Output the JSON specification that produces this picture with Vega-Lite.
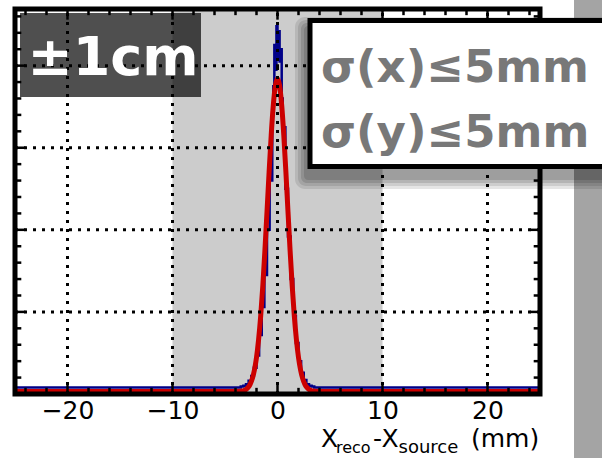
{
  "$schema": "https://vega.github.io/schema/vega-lite/v6.json",
  "width": 525,
  "height": 385,
  "autosize": {"type": "none"},
  "padding": {"left": 15, "top": 9, "right": 62, "bottom": 64},
  "background": "white",
  "config": {
    "view": {"stroke": null},
    "axisY": {"disable": true}
  },
  "datasets": {
    "hist": [
      {"lo": -25, "n": 0.08},
      {"lo": -3.5, "n": 0.09},
      {"lo": -3.25, "n": 0.10},
      {"lo": -3.0, "n": 0.12},
      {"lo": -2.75, "n": 0.16},
      {"lo": -2.5, "n": 0.22},
      {"lo": -2.25, "n": 0.32},
      {"lo": -2.0, "n": 0.47},
      {"lo": -1.75, "n": 0.72},
      {"lo": -1.5, "n": 1.06},
      {"lo": -1.25, "n": 1.45},
      {"lo": -1.0, "n": 2.00},
      {"lo": -0.75, "n": 2.60},
      {"lo": -0.5, "n": 3.40},
      {"lo": -0.4, "n": 3.75},
      {"lo": -0.3, "n": 4.25},
      {"lo": -0.2, "n": 3.95},
      {"lo": -0.1, "n": 4.48},
      {"lo": 0.0, "n": 4.10},
      {"lo": 0.1, "n": 4.42},
      {"lo": 0.2, "n": 4.05},
      {"lo": 0.3, "n": 4.20},
      {"lo": 0.4, "n": 3.60},
      {"lo": 0.5, "n": 3.25},
      {"lo": 0.75, "n": 2.50},
      {"lo": 1.0, "n": 1.92},
      {"lo": 1.25, "n": 1.40},
      {"lo": 1.5, "n": 0.95},
      {"lo": 1.75, "n": 0.62},
      {"lo": 2.0, "n": 0.40},
      {"lo": 2.25, "n": 0.26},
      {"lo": 2.5, "n": 0.17},
      {"lo": 2.75, "n": 0.12},
      {"lo": 3.0, "n": 0.10},
      {"lo": 3.25, "n": 0.09},
      {"lo": 3.5, "n": 0.08},
      {"lo": 25, "n": 0.08}
    ],
    "fit": [
      {"x": -25, "f": 0.03},
      {"x": -4.0, "f": 0.03},
      {"x": -3.6, "f": 0.033},
      {"x": -3.4, "f": 0.036},
      {"x": -3.2, "f": 0.043},
      {"x": -3.0, "f": 0.056},
      {"x": -2.8, "f": 0.080},
      {"x": -2.6, "f": 0.120},
      {"x": -2.4, "f": 0.187},
      {"x": -2.2, "f": 0.291},
      {"x": -2.0, "f": 0.445},
      {"x": -1.8, "f": 0.663},
      {"x": -1.6, "f": 0.952},
      {"x": -1.4, "f": 1.316},
      {"x": -1.2, "f": 1.746},
      {"x": -1.0, "f": 2.220},
      {"x": -0.8, "f": 2.702},
      {"x": -0.6, "f": 3.151},
      {"x": -0.4, "f": 3.517},
      {"x": -0.2, "f": 3.757},
      {"x": 0.0, "f": 3.840},
      {"x": 0.2, "f": 3.757},
      {"x": 0.4, "f": 3.517},
      {"x": 0.6, "f": 3.151},
      {"x": 0.8, "f": 2.702},
      {"x": 1.0, "f": 2.220},
      {"x": 1.2, "f": 1.746},
      {"x": 1.4, "f": 1.316},
      {"x": 1.6, "f": 0.952},
      {"x": 1.8, "f": 0.663},
      {"x": 2.0, "f": 0.445},
      {"x": 2.2, "f": 0.291},
      {"x": 2.4, "f": 0.187},
      {"x": 2.6, "f": 0.120},
      {"x": 2.8, "f": 0.080},
      {"x": 3.0, "f": 0.056},
      {"x": 3.2, "f": 0.043},
      {"x": 3.4, "f": 0.036},
      {"x": 3.6, "f": 0.033},
      {"x": 4.0, "f": 0.03},
      {"x": 25, "f": 0.03}
    ],
    "xmaj": [{"v": -20}, {"v": -10}, {"v": 0}, {"v": 10}, {"v": 20}],
    "xmin": [{"v": -24}, {"v": -22}, {"v": -18}, {"v": -16}, {"v": -14}, {"v": -12}, {"v": -8}, {"v": -6}, {"v": -4}, {"v": -2}, {"v": 2}, {"v": 4}, {"v": 6}, {"v": 8}, {"v": 12}, {"v": 14}, {"v": 16}, {"v": 18}, {"v": 22}, {"v": 24}],
    "ymaj": [{"v": 1}, {"v": 2}, {"v": 3}, {"v": 4}],
    "ymin": [{"v": 0.2}, {"v": 0.4}, {"v": 0.6}, {"v": 0.8}, {"v": 1.2}, {"v": 1.4}, {"v": 1.6}, {"v": 1.8}, {"v": 2.2}, {"v": 2.4}, {"v": 2.6}, {"v": 2.8}, {"v": 3.2}, {"v": 3.4}, {"v": 3.6}, {"v": 3.8}, {"v": 4.2}, {"v": 4.4}, {"v": 4.6}]
  },
  "layer": [
    {
      "data": {"values": [{}]},
      "mark": {"type": "rect", "fill": "#a4a4a4"},
      "encoding": {
        "x": {"datum": 28.24, "type": "quantitative",
          "scale": {"domain": [-25, 25], "nice": false, "zero": false},
          "axis": {"values": [-20, -10, 0, 10, 20], "title": null, "ticks": false, "domain": false, "grid": false,
            "labelFont": "DejaVu Sans", "labelFontSize": 25, "labelColor": "black", "labelPadding": 4, "labelFlush": false}},
        "x2": {"datum": 33},
        "y": {"datum": 4.85, "type": "quantitative", "scale": {"domain": [0, 4.69], "nice": false, "zero": false}},
        "y2": {"datum": -0.85}
      }
    },
    {
      "data": {"values": [{}]},
      "mark": {"type": "rect", "fill": "#cccccc"},
      "encoding": {
        "x": {"datum": -10, "type": "quantitative"},
        "x2": {"datum": 10},
        "y": {"datum": 0, "type": "quantitative"},
        "y2": {"datum": 4.69}
      }
    },
    {
      "data": {"name": "hist"},
      "mark": {"type": "line", "color": "#000088", "strokeWidth": 2.5, "interpolate": "step-after"},
      "encoding": {
        "x": {"field": "lo", "type": "quantitative"},
        "y": {"field": "n", "type": "quantitative"}
      }
    },
    {
      "data": {"name": "fit"},
      "mark": {"type": "line", "color": "#cc0000", "strokeWidth": 5, "interpolate": "monotone", "strokeJoin": "round"},
      "encoding": {
        "x": {"field": "x", "type": "quantitative"},
        "y": {"field": "f", "type": "quantitative"}
      }
    },
    {
      "data": {"name": "xmaj"},
      "mark": {"type": "rule", "color": "black", "strokeWidth": 3, "strokeDash": [3, 6]},
      "encoding": {
        "x": {"field": "v", "type": "quantitative"},
        "y": {"datum": 0, "type": "quantitative"},
        "y2": {"datum": 4.69}
      }
    },
    {
      "data": {"name": "ymaj"},
      "mark": {"type": "rule", "color": "black", "strokeWidth": 3, "strokeDash": [3, 6]},
      "encoding": {
        "y": {"field": "v", "type": "quantitative"},
        "x": {"datum": -25, "type": "quantitative"},
        "x2": {"datum": 25}
      }
    },
    {
      "data": {"name": "xmin"},
      "mark": {"type": "rule", "color": "black", "strokeWidth": 2.5},
      "encoding": {
        "x": {"field": "v", "type": "quantitative"},
        "y": {"datum": 0, "type": "quantitative"},
        "y2": {"datum": 0.075}
      }
    },
    {
      "data": {"name": "xmin"},
      "mark": {"type": "rule", "color": "black", "strokeWidth": 2.5},
      "encoding": {
        "x": {"field": "v", "type": "quantitative"},
        "y": {"datum": 4.69, "type": "quantitative"},
        "y2": {"datum": 4.615}
      }
    },
    {
      "data": {"name": "xmaj"},
      "mark": {"type": "rule", "color": "black", "strokeWidth": 2.5},
      "encoding": {
        "x": {"field": "v", "type": "quantitative"},
        "y": {"datum": 0, "type": "quantitative"},
        "y2": {"datum": 0.13}
      }
    },
    {
      "data": {"name": "xmaj"},
      "mark": {"type": "rule", "color": "black", "strokeWidth": 2.5},
      "encoding": {
        "x": {"field": "v", "type": "quantitative"},
        "y": {"datum": 4.69, "type": "quantitative"},
        "y2": {"datum": 4.56}
      }
    },
    {
      "data": {"name": "ymin"},
      "mark": {"type": "rule", "color": "black", "strokeWidth": 2.5},
      "encoding": {
        "y": {"field": "v", "type": "quantitative"},
        "x": {"datum": -25, "type": "quantitative"},
        "x2": {"datum": -24.4}
      }
    },
    {
      "data": {"name": "ymin"},
      "mark": {"type": "rule", "color": "black", "strokeWidth": 2.5},
      "encoding": {
        "y": {"field": "v", "type": "quantitative"},
        "x": {"datum": 25, "type": "quantitative"},
        "x2": {"datum": 24.4}
      }
    },
    {
      "data": {"name": "ymaj"},
      "mark": {"type": "rule", "color": "black", "strokeWidth": 2.5},
      "encoding": {
        "y": {"field": "v", "type": "quantitative"},
        "x": {"datum": -25, "type": "quantitative"},
        "x2": {"datum": -24.0}
      }
    },
    {
      "data": {"name": "ymaj"},
      "mark": {"type": "rule", "color": "black", "strokeWidth": 2.5},
      "encoding": {
        "y": {"field": "v", "type": "quantitative"},
        "x": {"datum": 25, "type": "quantitative"},
        "x2": {"datum": 24.0}
      }
    },
    {
      "data": {"values": [{}]},
      "mark": {"type": "rect", "fill": "white", "fillOpacity": 0, "stroke": "black", "strokeWidth": 5},
      "encoding": {
        "x": {"datum": -25, "type": "quantitative"},
        "x2": {"datum": 25},
        "y": {"datum": 0, "type": "quantitative"},
        "y2": {"datum": 4.69}
      }
    },
    {
      "data": {"values": [{}]},
      "mark": {"type": "rect", "fill": "black", "opacity": 0.69},
      "encoding": {
        "x": {"datum": -24.524, "type": "quantitative"},
        "x2": {"datum": -7.286},
        "y": {"datum": 4.641, "type": "quantitative"},
        "y2": {"datum": 3.618}
      }
    },
    {
      "data": {"values": [{}]},
      "mark": {"type": "text", "text": "±1cm", "font": "DejaVu Sans", "fontWeight": "bold", "fontSize": 54, "color": "white", "align": "left", "baseline": "alphabetic"},
      "encoding": {
        "x": {"datum": -23.81, "type": "quantitative"},
        "y": {"datum": 3.886, "type": "quantitative"}
      }
    },
    {
      "data": {"values": [{}]},
      "mark": {"type": "rect", "fill": "black", "opacity": 0.1, "cornerRadius": 10},
      "encoding": {
        "x": {"datum": 1.667, "type": "quantitative"},
        "x2": {"datum": 33},
        "y": {"datum": 4.593, "type": "quantitative"},
        "y2": {"datum": 2.497}
      }
    },
    {
      "data": {"values": [{}]},
      "mark": {"type": "rect", "fill": "black", "opacity": 0.1, "cornerRadius": 8},
      "encoding": {
        "x": {"datum": 1.952, "type": "quantitative"},
        "x2": {"datum": 33},
        "y": {"datum": 4.556, "type": "quantitative"},
        "y2": {"datum": 2.534}
      }
    },
    {
      "data": {"values": [{}]},
      "mark": {"type": "rect", "fill": "black", "opacity": 0.12, "cornerRadius": 6},
      "encoding": {
        "x": {"datum": 2.238, "type": "quantitative"},
        "x2": {"datum": 33},
        "y": {"datum": 4.519, "type": "quantitative"},
        "y2": {"datum": 2.570}
      }
    },
    {
      "data": {"values": [{}]},
      "mark": {"type": "rect", "fill": "black", "opacity": 0.12, "cornerRadius": 4},
      "encoding": {
        "x": {"datum": 2.524, "type": "quantitative"},
        "x2": {"datum": 33},
        "y": {"datum": 4.483, "type": "quantitative"},
        "y2": {"datum": 2.607}
      }
    },
    {
      "data": {"values": [{}]},
      "mark": {"type": "rect", "fill": "white", "stroke": "black", "strokeWidth": 5},
      "encoding": {
        "x": {"datum": 3.095, "type": "quantitative"},
        "x2": {"datum": 33},
        "y": {"datum": 4.550, "type": "quantitative"},
        "y2": {"datum": 2.771}
      }
    },
    {
      "data": {"values": [{}]},
      "mark": {"type": "text", "text": "σ(x)≤5mm", "font": "DejaVu Sans", "fontWeight": "bold", "fontSize": 45, "color": "#787878", "align": "left", "baseline": "alphabetic"},
      "encoding": {
        "x": {"datum": 4.143, "type": "quantitative"},
        "y": {"datum": 3.80, "type": "quantitative"}
      }
    },
    {
      "data": {"values": [{}]},
      "mark": {"type": "text", "text": "σ(y)≤5mm", "font": "DejaVu Sans", "fontWeight": "bold", "fontSize": 45, "color": "#787878", "align": "left", "baseline": "alphabetic"},
      "encoding": {
        "x": {"datum": 4.143, "type": "quantitative"},
        "y": {"datum": 3.009, "type": "quantitative"}
      }
    },
    {
      "data": {"values": [{}]},
      "mark": {"type": "text", "text": "X", "font": "DejaVu Sans", "fontSize": 25, "color": "black", "align": "left", "baseline": "alphabetic"},
      "encoding": {
        "x": {"datum": 4.143, "type": "quantitative"},
        "y": {"datum": -0.646, "type": "quantitative"}
      }
    },
    {
      "data": {"values": [{}]},
      "mark": {"type": "text", "text": "reco", "font": "DejaVu Sans", "fontSize": 16, "color": "black", "align": "left", "baseline": "alphabetic"},
      "encoding": {
        "x": {"datum": 5.571, "type": "quantitative"},
        "y": {"datum": -0.719, "type": "quantitative"}
      }
    },
    {
      "data": {"values": [{}]},
      "mark": {"type": "text", "text": "-", "font": "DejaVu Sans", "fontSize": 25, "color": "black", "align": "left", "baseline": "alphabetic"},
      "encoding": {
        "x": {"datum": 9.095, "type": "quantitative"},
        "y": {"datum": -0.646, "type": "quantitative"}
      }
    },
    {
      "data": {"values": [{}]},
      "mark": {"type": "text", "text": "X", "font": "DejaVu Sans", "fontSize": 25, "color": "black", "align": "left", "baseline": "alphabetic"},
      "encoding": {
        "x": {"datum": 9.905, "type": "quantitative"},
        "y": {"datum": -0.646, "type": "quantitative"}
      }
    },
    {
      "data": {"values": [{}]},
      "mark": {"type": "text", "text": "source", "font": "DejaVu Sans", "fontSize": 18, "color": "black", "align": "left", "baseline": "alphabetic"},
      "encoding": {
        "x": {"datum": 11.524, "type": "quantitative"},
        "y": {"datum": -0.719, "type": "quantitative"}
      }
    },
    {
      "data": {"values": [{}]},
      "mark": {"type": "text", "text": "(mm)", "font": "DejaVu Sans", "fontSize": 25, "color": "black", "align": "left", "baseline": "alphabetic"},
      "encoding": {
        "x": {"datum": 18.429, "type": "quantitative"},
        "y": {"datum": -0.646, "type": "quantitative"}
      }
    }
  ]
}
